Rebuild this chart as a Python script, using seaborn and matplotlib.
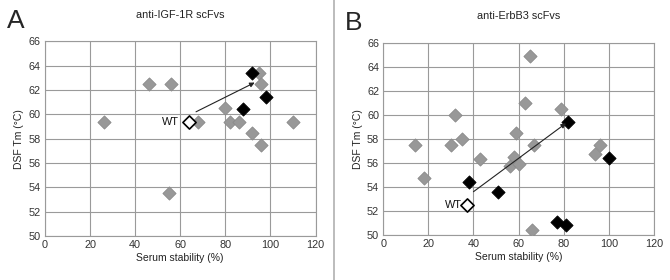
import numpy as np
import matplotlib
matplotlib.use("Agg")
import matplotlib.pyplot as plt
import seaborn as sns
import pandas as pd

# panel A: anti-IGF-1R scFvs
a_grey_x = [26, 46, 56, 55, 68, 80, 82, 86, 92, 95, 96, 96, 110]
a_grey_y = [59.4, 62.5, 62.5, 53.5, 59.4, 60.5, 59.4, 59.4, 58.5, 63.4, 62.5, 57.5, 59.4]
a_black_x = [92, 88, 98]
a_black_y = [63.4, 60.4, 61.4]
a_wt = (64, 59.4)
a_arrow = ((67, 60.2), (93, 62.6))

# panel B: anti-ErbB3 scFvs
b_grey_x = [14, 18, 30, 32, 35, 43, 56, 58, 59, 60, 63, 65, 66, 67, 79, 94, 96]
b_grey_y = [57.5, 54.7, 57.5, 60.0, 58.0, 56.3, 55.7, 56.5, 58.5, 55.9, 61.0, 64.9, 50.4, 57.5, 60.5, 56.7, 57.5]
b_black_x = [38, 51, 77, 81, 82, 100]
b_black_y = [54.4, 53.6, 51.1, 50.8, 59.4, 56.4]
b_wt = (37, 52.5)
b_arrow = ((40, 53.6), (81, 59.3))

sns.set_style("white")
plt.rcParams['font.family'] = ['Liberation Sans', 'DejaVu Sans']

fig = plt.figure(figsize=(6.7, 2.8), dpi=100)
ax_a = fig.add_axes([0.067, 0.157, 0.404, 0.696])
ax_b = fig.add_axes([0.572, 0.161, 0.404, 0.686])


def make_df(gx, gy, bx, by, wt):
    df = pd.concat([
        pd.DataFrame({"x": gx, "y": gy, "kind": "mutant"}),
        pd.DataFrame({"x": bx, "y": by, "kind": "combo"}),
        pd.DataFrame({"x": [wt[0]], "y": [wt[1]], "kind": "WT"}),
    ], ignore_index=True)
    return df


def draw_panel(ax, df, arrow, wt, title, letter, wt_text_x):
    pal = {"mutant": "#989898", "combo": "#000000", "WT": "#ffffff"}
    edges = {"mutant": "#8a8a8a", "combo": "#000000", "WT": "#000000"}
    for kind in ["mutant", "combo", "WT"]:
        sub = df[df.kind == kind]
        sns.scatterplot(data=sub, x="x", y="y", ax=ax, marker="D", s=45,
                        color=pal[kind], edgecolor=edges[kind],
                        linewidth=1.2 if kind == "WT" else 0.6, zorder=3, legend=False)
    ax.annotate("", xy=arrow[1], xytext=arrow[0],
                arrowprops=dict(arrowstyle="-|>", color="#222222", lw=0.8,
                                mutation_scale=7, shrinkA=0, shrinkB=0), zorder=4)
    ax.text(wt_text_x, wt[1], "WT", fontsize=7.8, va="center", ha="left", color="#111111")
    ax.set_xlim(0, 120)
    ax.set_ylim(50, 66)
    ax.set_xticks(np.arange(0, 121, 20))
    ax.set_yticks(np.arange(50, 67, 2))
    ax.grid(True, color="#9a9a9a", lw=0.8)
    ax.set_axisbelow(True)
    for sp in ax.spines.values():
        sp.set_color("#9a9a9a")
        sp.set_linewidth(0.8)
    ax.tick_params(labelsize=7.8, colors="#333333", length=0, pad=3)
    ax.set_xlabel("Serum stability (%)", fontsize=7.5, color="#222222", labelpad=2)
    ax.set_ylabel("DSF Tm (°C)", fontsize=7.5, color="#222222", labelpad=3)
    ax.set_title(title, fontsize=7.8, color="#222222", pad=17)
    ax.text(-0.14, 1.04, letter, transform=ax.transAxes, fontsize=19, va="bottom", ha="left")


df_a = make_df(a_grey_x, a_grey_y, a_black_x, a_black_y, a_wt)
df_b = make_df(b_grey_x, b_grey_y, b_black_x, b_black_y, b_wt)
draw_panel(ax_a, df_a, a_arrow, a_wt, "anti-IGF-1R scFvs", "A", 52)
draw_panel(ax_b, df_b, b_arrow, b_wt, "anti-ErbB3 scFvs", "B", 27.5)

fig.add_artist(plt.Line2D([0.4985, 0.4985], [0, 1], color="#b0b0b0", lw=1.2, transform=fig.transFigure))

fig.savefig("out.png", dpi=100)
